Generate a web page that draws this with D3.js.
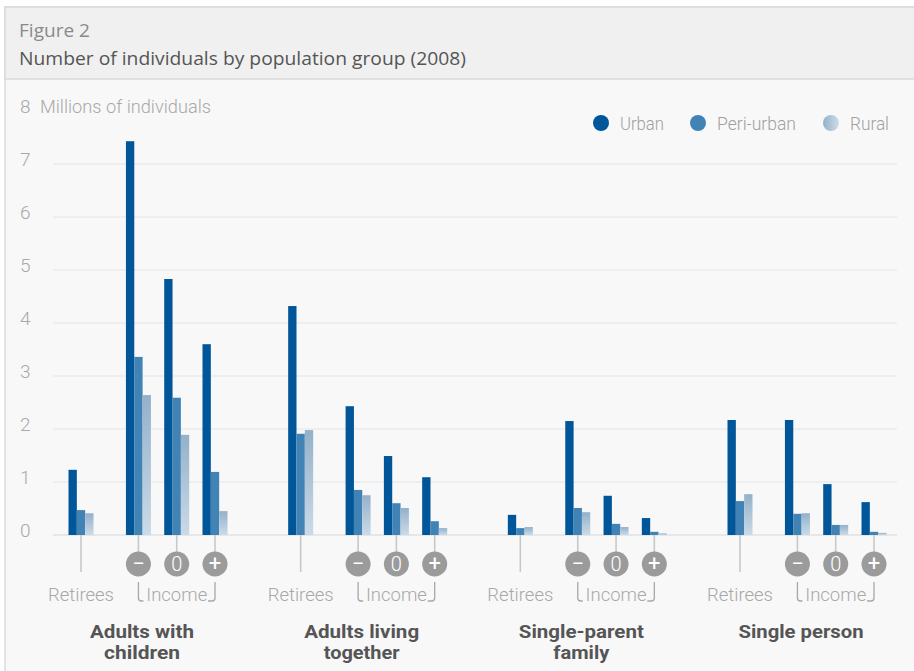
<!DOCTYPE html>
<html>
<head>
<meta charset="utf-8">
<script src="https://cdn.jsdelivr.net/npm/d3@7/dist/d3.min.js"></script>
<style>
  html, body { margin: 0; padding: 0; background: #ffffff; }
  svg { display: block; }
</style>
</head>
<body>
<script>
// ---------- DATA ----------
const groups = ["Adults with children", "Adults living together", "Single-parent family", "Single person"];
const groupLines = [["Adults with", "children"], ["Adults living", "together"], ["Single-parent", "family"], ["Single person"]];
const subgroups = ["Retirees", "−", "0", "+"];
const seriesNames = ["Urban", "Peri-urban", "Rural"];
// values in millions, order: group × subgroup
const urban = [1.23, 7.43, 4.83, 3.60,  4.32, 2.43, 1.49, 1.09,  0.38, 2.15, 0.74, 0.32,  2.17, 2.17, 0.96, 0.62];
const periUrban = [0.47, 3.36, 2.59, 1.19,  1.91, 0.85, 0.60, 0.26,  0.13, 0.51, 0.21, 0.06,  0.64, 0.40, 0.19, 0.06];
const rural = [0.41, 2.64, 1.89, 0.45,  1.98, 0.75, 0.51, 0.13,  0.15, 0.43, 0.15, 0.03,  0.77, 0.41, 0.19, 0.04];
const yTicks = [0, 1, 2, 3, 4, 5, 6, 7, 8];

// ---------- SETUP ----------
const W = 914, H = 671;
const svg = d3.select("body").append("svg").attr("width", W).attr("height", H);
const defs = svg.append("defs");
const gv = defs.append("linearGradient").attr("id", "ruralV").attr("x1", 0).attr("y1", 0).attr("x2", 0).attr("y2", 1);
gv.append("stop").attr("offset", "0%").attr("stop-color", "#93b1cb");
gv.append("stop").attr("offset", "100%").attr("stop-color", "#cbdae7");
const gh = defs.append("linearGradient").attr("id", "ruralH").attr("x1", 0).attr("y1", 0).attr("x2", 1).attr("y2", 0);
gh.append("stop").attr("offset", "0%").attr("stop-color", "#93b1cb");
gh.append("stop").attr("offset", "100%").attr("stop-color", "#cfdde9");

const colors = { "Urban": "#005698", "Peri-urban": "#4283b6", "Rural": "url(#ruralV)" };
const legendColors = { "Urban": "#005698", "Peri-urban": "#4283b6", "Rural": "url(#ruralH)" };

// panel background
svg.append("rect").attr("x", 5).attr("y", 7).attr("width", W).attr("height", H).attr("fill", "#f8f8f8")
  .attr("stroke", "#d4d4d4").attr("stroke-width", 1.2);
svg.append("rect").attr("x", 5).attr("y", 7).attr("width", W).attr("height", 72).attr("fill", "#f0f0f0")
  .attr("stroke", "#d4d4d4").attr("stroke-width", 1.2);

svg.append("text").attr("x", 19).attr("y", 37).text("Figure 2")
  .attr("font-family", "'Open Sans', sans-serif").attr("font-size", 18).attr("fill", "#8a8a8a")
  .attr("textLength", 71).attr("lengthAdjust", "spacingAndGlyphs");
svg.append("text").attr("x", 19).attr("y", 65).text("Number of individuals by population group (2008)")
  .attr("font-family", "'Open Sans', sans-serif").attr("font-size", 18.5).attr("fill", "#555")
  .attr("textLength", 447).attr("lengthAdjust", "spacingAndGlyphs");

// ---------- SCALES ----------
const y = d3.scaleLinear().domain([0, 8]).range([535, 111]);
const xGroup = d3.scalePoint().domain(groups).range([148, 807]);
const slotIndex = [0, 1.5, 2.5, 3.5];
const xSlot = d3.scaleLinear().domain([0, 3.5]).range([-67, 67]);
const xSeries = d3.scaleBand().domain(seriesNames).range([-12.5, 12.5]);
const cond = "Roboto, 'Liberation Sans', sans-serif";

// gridlines
const grid = svg.append("g");
grid.selectAll("line").data(yTicks.filter(d => d < 8)).join("line")
  .attr("x1", 53).attr("x2", 897)
  .attr("y1", d => y(d)).attr("y2", d => y(d))
  .attr("stroke", d => d === 0 ? "#e2e2e2" : "#ebebeb").attr("stroke-width", 1.5);

// y labels
svg.append("g").selectAll("text").data(yTicks).join("text")
  .attr("x", 20).attr("y", d => y(d) + 2)
  .text(d => d)
  .attr("font-family", cond).attr("font-size", 19).attr("font-weight", 300).attr("fill", "#a8a8a8");
svg.append("text").attr("x", 40).attr("y", y(8) + 2).text("Millions of individuals")
  .attr("font-family", cond).attr("font-size", 19).attr("font-weight", 300).attr("fill", "#a8a8a8")
  .attr("textLength", 171).attr("lengthAdjust", "spacingAndGlyphs");

// ---------- LEGEND ----------
const legendX = [601, 698, 831];
const legendTextW = [44, 79, 39];
const lg = svg.append("g").selectAll("g").data(seriesNames).join("g")
  .attr("transform", (d, i) => `translate(${legendX[i]},123)`);
lg.append("circle").attr("r", 8).attr("fill", d => legendColors[d]);
lg.append("text").attr("x", 19).attr("y", 7).text(d => d)
  .attr("font-family", cond).attr("font-size", 19).attr("font-weight", 300).attr("fill", "#a0a0a0")
  .attr("textLength", (d, i) => legendTextW[i]).attr("lengthAdjust", "spacingAndGlyphs");

// ---------- BARS & CATEGORY AXIS ----------
const seriesVals = { "Urban": urban, "Peri-urban": periUrban, "Rural": rural };
const cells = [];
groups.forEach((g, gi) => subgroups.forEach((s, si) => {
  cells.push({ g, gi, s, si, cx: xGroup(g) + xSlot(slotIndex[si]), idx: gi * 4 + si });
}));

// tick lines below bars
const axisG = svg.append("g");
axisG.selectAll("line").data(cells).join("line")
  .attr("x1", d => d.cx).attr("x2", d => d.cx)
  .attr("y1", y(0)).attr("y2", d => d.si === 0 ? 572 : 552)
  .attr("stroke", "#c8c8c8").attr("stroke-width", 1.6);

const barG = svg.append("g");
cells.forEach(c => {
  seriesNames.forEach(sn => {
    const v = seriesVals[sn][c.idx];
    barG.append("rect")
      .attr("x", c.cx + xSeries(sn))
      .attr("width", xSeries.bandwidth())
      .attr("y", y(v))
      .attr("height", y(0) - y(v))
      .attr("fill", colors[sn]);
  });
});

// income circles
const inc = cells.filter(d => d.si > 0);
const ig = svg.append("g").selectAll("g").data(inc).join("g")
  .attr("transform", d => `translate(${d.cx},564)`);
ig.append("circle").attr("r", 12.5).attr("fill", "#9b9b9b");
ig.append("text").attr("text-anchor", "middle").attr("y", 7)
  .text(d => d.s)
  .attr("font-family", cond).attr("font-size", d => d.s === "0" ? 20 : 22).attr("font-weight", d => d.s === "0" ? 300 : 400)
  .attr("fill", "#ffffff");

// Retirees labels
svg.append("g").selectAll("text").data(cells.filter(d => d.si === 0)).join("text")
  .attr("x", d => d.cx).attr("y", 601).attr("text-anchor", "middle")
  .text("Retirees")
  .attr("font-family", cond).attr("font-size", 19).attr("font-weight", 300).attr("fill", "#a8a8a8")
  .attr("textLength", 66).attr("lengthAdjust", "spacingAndGlyphs");

// Income brackets
groups.forEach(g => {
  const xl = xGroup(g) + xSlot(slotIndex[1]);
  const xr = xGroup(g) + xSlot(slotIndex[3]);
  svg.append("path")
    .attr("d", `M${xl},582 V598 Q${xl},601 ${xl + 3},601 H${xl + 5}`)
    .attr("fill", "none").attr("stroke", "#a8a8a8").attr("stroke-width", 1.3);
  svg.append("path")
    .attr("d", `M${xr},582 V598 Q${xr},601 ${xr - 3},601 H${xr - 7}`)
    .attr("fill", "none").attr("stroke", "#a8a8a8").attr("stroke-width", 1.3);
  svg.append("text").attr("x", (xl + xr) / 2).attr("y", 601).attr("text-anchor", "middle")
    .text("Income")
    .attr("font-family", cond).attr("font-size", 19).attr("font-weight", 300).attr("fill", "#a8a8a8")
    .attr("textLength", 61).attr("lengthAdjust", "spacingAndGlyphs");
});

// Group labels
const groupTextW = [[104, 76], [115, 76], [125, 56], [125]];
groups.forEach((g, gi) => {
  groupLines[gi].forEach((line, li) => {
    svg.append("text").attr("x", xGroup(g) - 6).attr("y", 638 + li * 21).attr("text-anchor", "middle")
      .text(line)
      .attr("font-family", cond).attr("font-size", 18).attr("font-weight", 700).attr("fill", "#555")
      .attr("textLength", groupTextW[gi][li]).attr("lengthAdjust", "spacingAndGlyphs");
  });
});
</script>
</body>
</html>
